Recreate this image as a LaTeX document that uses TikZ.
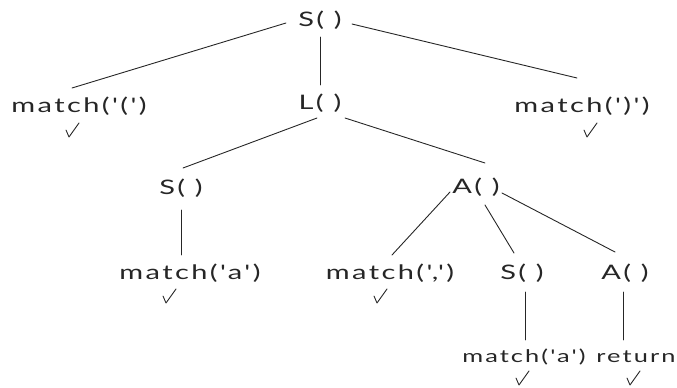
\documentclass[tikz,border=0pt]{standalone}
\usepackage{fontspec}
\newfontfamily\callfont{Lato}[FakeStretch=1.45,LetterSpace=12]
\usetikzlibrary{calc}
\begin{document}
\begin{tikzpicture}[x=1pt,y=-1pt,
  call/.style={inner sep=0pt,font=\callfont\fontsize{20}{20}\selectfont,text=black!85},
  small call/.style={call,font=\callfont\fontsize{17.5}{17.5}\selectfont},
  edge/.style={line width=0.9pt,draw=black!85,line cap=round},
  checkmark/.pic={\draw[line width=0.9pt,draw=black!85,line cap=round,line join=round]
      (-6,0) -- (-3,7) -- (7,-7);}]
\useasboundingbox (0,0) rectangle (677,388);

% call tree
\node[call] (s0) at (320,20)  {S( )};
\node[call] (m1) at (79,106)  {match('(')};
\node[call] (l)  at (320,103) {L( )};
\node[call] (m2) at (582,106) {match(')')};
\node[call] (s1) at (181,188) {S( )};
\node[call] (a1) at (476,187) {A( )};
\node[call] (m3) at (190,273) {match('a')};
\node[call] (m4) at (390,273) {match(',')};
\node[call] (s2) at (522,273) {S( )};
\node[call] (a2) at (625,273) {A( )};
\node[small call] (m5) at (524,357) {match('a')};
\node[small call] (r) at (636,357) {return};

% successful leaves
\pic at (72,130)  {checkmark};
\pic at (590,130) {checkmark};
\pic at (169,296) {checkmark};
\pic at (380,296) {checkmark};
\pic at (522,378) {checkmark};
\pic at (633,378) {checkmark};

% branches
\draw[edge] ($(s0)+(-34,3)$) -- ($(m1)+(-7,-18)$);
\draw[edge] ($(s0)+(0,17)$)  -- ($(l)+(0,-18)$);
\draw[edge] ($(s0)+(32,4)$)  -- ($(m2)+(-5,-28)$);
\draw[edge] ($(l)+(-3,15)$)  -- ($(s1)+(2,-20)$);
\draw[edge] ($(l)+(25,15)$)  -- ($(a1)+(9,-24)$);
\draw[edge] ($(s1)+(0,22)$)  -- ($(m3)+(-9,-18)$);
\draw[edge] ($(a1)+(-26,5)$) -- ($(m4)+(2,-18)$);
\draw[edge] ($(a1)+(9,18)$)  -- ($(s2)+(-8,-20)$);
\draw[edge] ($(a1)+(26,6)$)  -- ($(a2)+(-10,-21)$);
\draw[edge] ($(s2)+(3,19)$)  -- ($(m5)+(1,-17)$);
\draw[edge] ($(a2)+(-2,19)$) -- ($(r)+(-13,-17)$);
\end{tikzpicture}
\end{document}
